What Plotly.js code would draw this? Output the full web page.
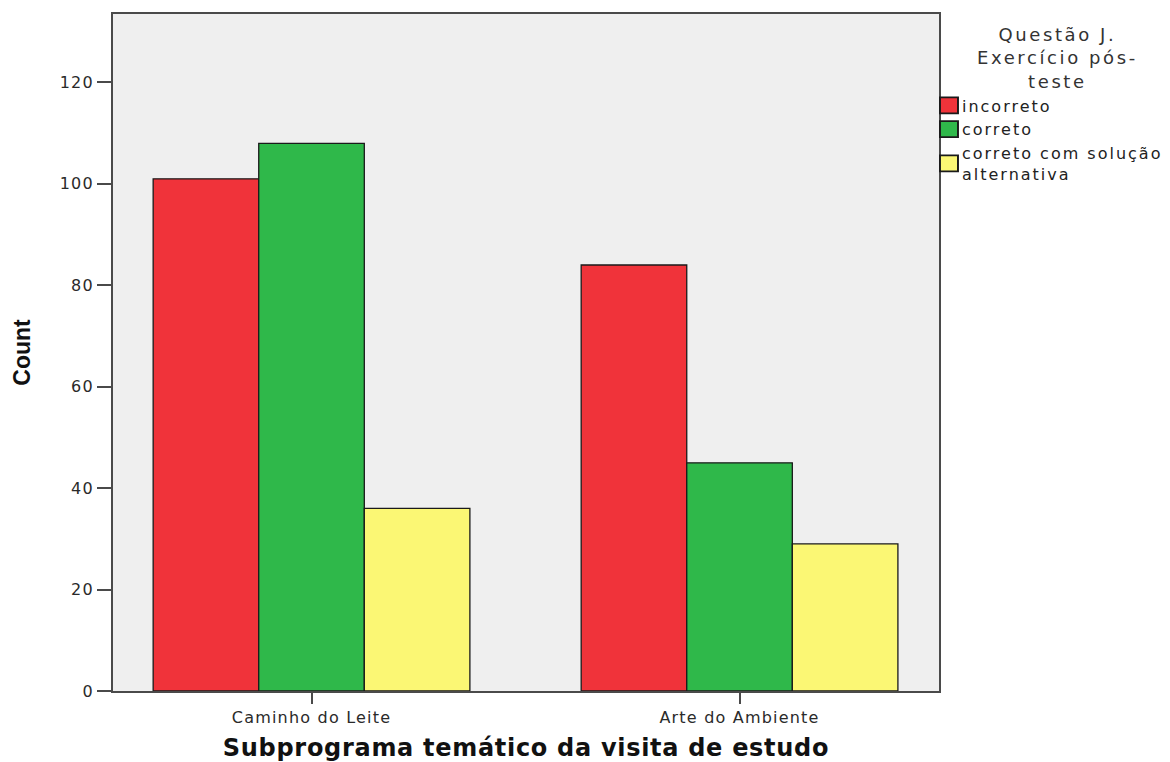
<!DOCTYPE html>
<html>
<head>
<meta charset="utf-8">
<script src="https://cdn.plot.ly/plotly-3.0.1.min.js"></script>
<style>
html,body{margin:0;padding:0;background:#fff;}
.xtick text, .ytick text {letter-spacing: 1.2px;}
.legendtext {letter-spacing: 2px;}
.annotation-text {letter-spacing: 2.6px;}
.g-xtitle text {letter-spacing: 0.7px;}
.legendpoints path {transform: translate(27px, 0px) scale(1.5, 1.33);}
</style>
</head>
<body>
<div id="chart" style="width:1170px;height:762px;"></div>
<script>
const categories = ["Caminho do Leite", "Arte do Ambiente"];
const seriesNames = ["incorreto", "correto", "correto com solução<br>alternativa"];
const seriesColors = ["#f0333a", "#2fb84a", "#fbf774"];
const incorreto = [101, 84];
const correto = [108, 45];
const corretoAlt = [36, 29];
const yTicks = [0, 20, 40, 60, 80, 100, 120];
const legendTitle = "Questão J.<br>Exercício pós-<br>teste";

const values = [incorreto, correto, corretoAlt];
const traces = values.map((v, i) => ({
  type: "bar",
  name: seriesNames[i],
  x: categories,
  y: v,
  marker: {color: seriesColors[i], line: {color: "#1a1a1a", width: 1.3}},
  hoverinfo: "x+y+name"
}));

const font = "DejaVu Sans, Verdana, sans-serif";
const layout = {
  width: 1170, height: 762,
  margin: {l: 113, r: 231, t: 14, b: 71, pad: 0, autoexpand: false},
  paper_bgcolor: "#ffffff",
  plot_bgcolor: "#efefef",
  barmode: "group",
  bargap: 0.26,
  bargroupgap: 0,
  showlegend: true,
  font: {family: font, size: 16, color: "#222"},
  xaxis: {
    type: "category",
    range: [-0.4638, 1.466],
    showgrid: false, zeroline: false,
    showline: true, linecolor: "#4a4a4a", linewidth: 2, mirror: true,
    ticks: "outside", ticklen: 11, tickwidth: 2, tickcolor: "#4a4a4a",
    tickfont: {family: font, size: 16, color: "#2a2a2a"},
    title: {text: "<b>Subprograma temático da visita de estudo</b>",
            font: {family: font, size: 24, color: "#111"}, standoff: 14}
  },
  yaxis: {
    range: [0, 133.5],
    tickvals: yTicks,
    showgrid: false, zeroline: false,
    showline: true, linecolor: "#4a4a4a", linewidth: 2, mirror: true,
    ticks: "outside", ticklen: 14, tickwidth: 2, tickcolor: "#4a4a4a",
    tickfont: {family: font, size: 16, color: "#2a2a2a"},
    title: {text: "<b>Count</b>", font: {family: "Liberation Sans, Arial, sans-serif", size: 23, color: "#111"}, standoff: 23}
  },
  legend: {
    x: 0.9794, xanchor: "left", y: 0.89, yanchor: "top",
    bgcolor: "rgba(0,0,0,0)",
    font: {family: font, size: 16, color: "#222"},
    tracegroupgap: 0,
    itemclick: false, itemdoubleclick: false
  },
  annotations: [{
    text: legendTitle,
    xref: "paper", yref: "paper", x: 1.1429, y: 0.988,
    xanchor: "center", yanchor: "top", showarrow: false, align: "center",
    font: {family: font, size: 18, color: "#333"}
  }]
};

Plotly.newPlot("chart", traces, layout, {displayModeBar: false});
</script>
</body>
</html>
